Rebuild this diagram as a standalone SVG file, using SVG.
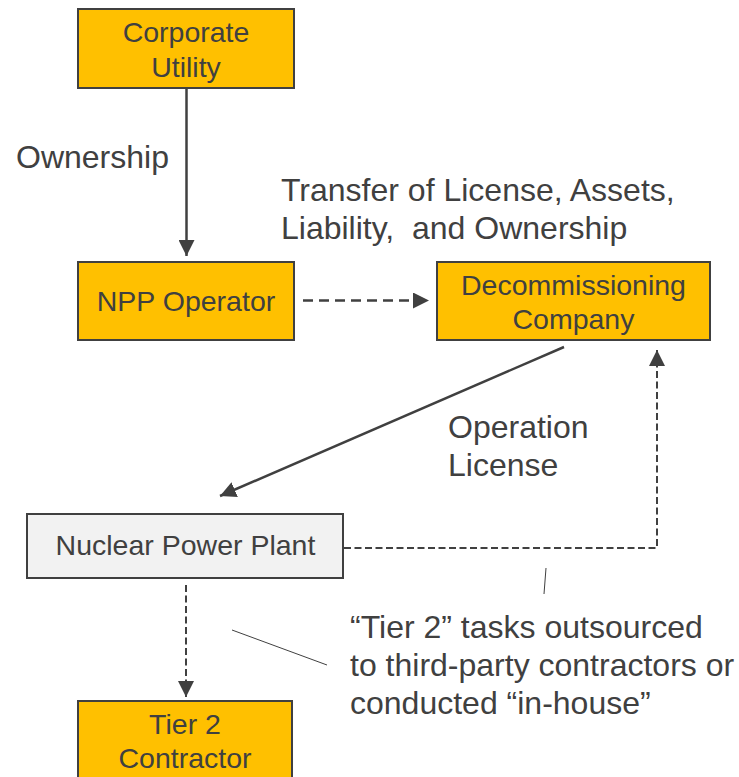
<svg xmlns="http://www.w3.org/2000/svg" width="739" height="777" viewBox="0 0 739 777">
  <defs>
    <marker id="head" viewBox="0 0 16 16" refX="16" refY="8" markerWidth="16" markerHeight="16" markerUnits="userSpaceOnUse" orient="auto">
      <path d="M0,0 L16,8 L0,16 z" fill="#404040"/>
    </marker>
    <style>
      .box { fill: #FFC000; stroke: #404040; stroke-width: 2; }
      .plant { fill: #F2F2F2; stroke: #404040; stroke-width: 2; }
      .ntext { font-family: "Liberation Sans", Arial, sans-serif; font-size: 28.5px; fill: #404040; text-anchor: middle; }
      .label { font-family: "Liberation Sans", Arial, sans-serif; font-size: 32px; fill: #404040; }
      .solid { fill: none; stroke: #404040; stroke-width: 2.5; marker-end: url(#head); }
      .dash { fill: none; stroke: #404040; stroke-width: 2.5; stroke-dasharray: 10 6; marker-end: url(#head); }
      .dash-s { fill: none; stroke: #404040; stroke-width: 2; stroke-dasharray: 7 3.5; marker-end: url(#head); }
      .callout { fill: none; stroke: #404040; stroke-width: 1; }
    </style>
  </defs>

  <rect width="739" height="777" fill="#FFFFFF"/>

  <g id="corporate-utility">
    <rect class="box" x="78" y="9" width="216" height="79"/>
    <text class="ntext" x="186" y="42">Corporate</text>
    <text class="ntext" x="186" y="77">Utility</text>
  </g>

  <g id="npp-operator">
    <rect class="box" x="78" y="262" width="216" height="78"/>
    <text class="ntext" x="186" y="311">NPP Operator</text>
  </g>

  <g id="decommissioning-company">
    <rect class="box" x="437" y="262" width="273" height="78"/>
    <text class="ntext" x="573.5" y="295">Decommissioning</text>
    <text class="ntext" x="573.5" y="329">Company</text>
  </g>

  <g id="nuclear-power-plant">
    <rect class="plant" x="27" y="514" width="316" height="64"/>
    <text class="ntext" x="185.5" y="555">Nuclear Power Plant</text>
  </g>

  <g id="tier2-contractor">
    <rect class="box" x="78" y="701" width="214" height="100"/>
    <text class="ntext" x="185" y="734">Tier 2</text>
    <text class="ntext" x="185" y="768">Contractor</text>
  </g>

  <g id="connectors">
    <line class="solid" x1="186.5" y1="89" x2="186.5" y2="256"/>
    <line class="dash" x1="303" y1="300.5" x2="429" y2="300.5"/>
    <line class="solid" x1="564" y1="347" x2="220" y2="496"/>
    <polyline class="dash-s" points="344,548 657,548 657,350"/>
    <line class="dash-s" x1="186" y1="585" x2="186" y2="697"/>
    <line class="callout" x1="232" y1="630" x2="327" y2="665"/>
    <line class="callout" x1="546" y1="568" x2="544" y2="594"/>
  </g>

  <g id="labels">
    <text class="label" x="16" y="168">Ownership</text>
    <text class="label" x="281" y="201">Transfer of License, Assets,</text>
    <text class="label" x="281" y="239" xml:space="preserve">Liability,  and Ownership</text>
    <text class="label" x="448" y="438">Operation</text>
    <text class="label" x="448" y="476">License</text>
    <text class="label" x="350" y="638">“Tier 2” tasks outsourced</text>
    <text class="label" x="350" y="676">to third-party contractors or</text>
    <text class="label" x="350" y="714">conducted “in-house”</text>
  </g>
</svg>
